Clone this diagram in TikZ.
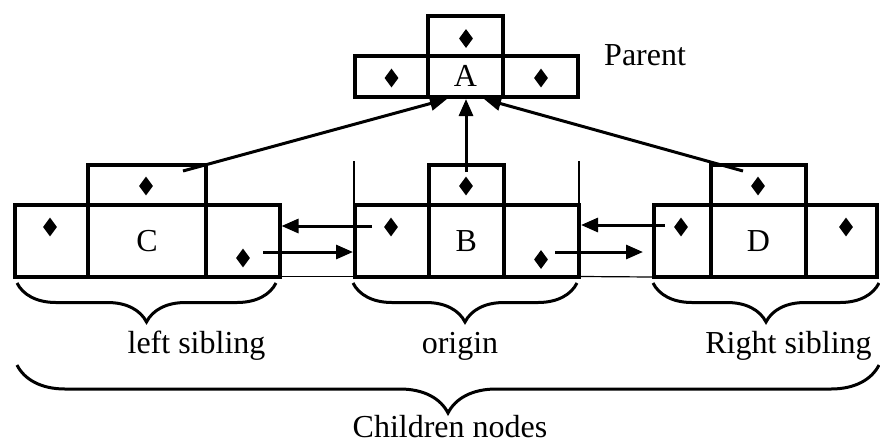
\documentclass[tikz,border=0pt]{standalone}
\usepackage{fontspec}
\setmainfont{Liberation Serif}
\usetikzlibrary{arrows.meta,shapes.geometric,decorations.pathreplacing}

\tikzset{
	cell/.style={draw, rectangle, line width=4pt, inner sep=0pt},
	suit/.style={diamond, fill, inner sep=0pt, minimum width=14pt, minimum height=19pt},
	link/.style={line width=3pt, -{Triangle[length=17pt,width=14pt]}},
	guide/.style={line width=1.2pt},
	brc/.style={decorate, line width=3pt, decoration={brace, mirror, amplitude=#1}},
	lbl/.style={anchor=base, inner sep=1pt}
}

\begin{document}
\begin{tikzpicture}[x=1pt, y=-1pt, font=\fontsize{32}{38}\selectfont]
	\useasboundingbox (0,0) rectangle (880,445);

	\begin{scope}[every node/.style={cell}]
	% parent
	\node[minimum width=75pt, minimum height=39.5pt] (at) at (465.5,35.75) {};
	\node[minimum width=73pt, minimum height=41.5pt] (al) at (391.5,76.25) {};
	\node[minimum width=75pt, minimum height=41.5pt] (am) at (465.5,76.25) {A};
	\node[minimum width=75pt, minimum height=41.5pt] (ar) at (540.5,76.25) {};
	% left sibling
	\node[minimum width=118pt, minimum height=40pt] (ct) at (147,185) {};
	\node[minimum width=73pt, minimum height=71.5pt] (cl) at (51.5,240.75) {};
	\node[minimum width=118pt, minimum height=71.5pt] (cm) at (147,240.75) {C};
	\node[minimum width=73.5pt, minimum height=71.5pt] (cr) at (242.75,240.75) {};
	% origin
	\node[minimum width=74.5pt, minimum height=40.5pt] (bt) at (466.25,184.75) {};
	\node[minimum width=74pt, minimum height=71.5pt] (bl) at (392,240.75) {};
	\node[minimum width=74.5pt, minimum height=71.5pt] (bm) at (466.25,240.75) {B};
	\node[minimum width=75.5pt, minimum height=71.5pt] (br) at (541.25,240.75) {};
	% right sibling
	\node[minimum width=95pt, minimum height=40.5pt] (dt) at (758.5,184.75) {};
	\node[minimum width=57pt, minimum height=72pt] (dl) at (682.5,241) {};
	\node[minimum width=95pt, minimum height=72pt] (dm) at (758.5,241) {D};
	\node[minimum width=71pt, minimum height=72pt] (dr) at (841.5,241) {};
	\end{scope}

	\begin{scope}[every node/.style={suit}]
	\node (atd) at (466,38.5) {};
	\node (ald) at (391.5,78) {};
	\node (ard) at (541,78) {};
	\node (ctd) at (146,186) {};
	\node (cld) at (50,227) {};
	\node (crd) at (243,258) {};
	\node (btd) at (466,186) {};
	\node (bld) at (391,227) {};
	\node (brd) at (541,259.5) {};
	\node (dtd) at (758,186) {};
	\node (dld) at (681,227) {};
	\node (drd) at (846,227) {};
	\end{scope}

	\node[lbl, anchor=base west] (par) at (603,65) {Parent};

	% pointers to the parent
	\coordinate (cp) at (183,171);
	\coordinate (bp) at (466,172);
	\coordinate (dp) at (743,171);
	\draw[link] (cp) -- ([xshift=17pt]al.south east);
	\draw[link] (bp) -- (bp |- am.south);
	\draw[link] (dp) -- ([xshift=-17pt]ar.south west);

	% sibling pointers
	\coordinate (bc) at (372,226);
	\coordinate (cb) at (263,252);
	\coordinate (db) at (665,225);
	\coordinate (bd) at (555,252);
	\draw[link] (bc) -- (bc -| cr.east);
	\draw[link] (cb) -- (cb -| bl.west);
	\draw[link] (db) -- (db -| br.east);
	\draw[link, shorten >=9pt] (bd) -- (bd -| dl.west);

	\draw[guide] ([xshift=1pt]bl.north west) -- ++(0,-42);
	\draw[guide] ([xshift=-2pt]br.north east) -- ++(0,-42);
	\draw[guide] ([yshift=2pt]cr.south east) -- ([yshift=2pt]bl.south west);
	\draw[guide] ([yshift=2pt]br.south east) -- ([yshift=2pt]dl.south west);

	% braces
	\draw[brc=39pt] (17,283) -- (276,283);
	\draw[brc=39pt] (353,283) -- (577,283);
	\draw[brc=39pt] (653,283) -- (879,283);
	\draw[brc=48pt] (17,365) -- (879,365);

	\node[lbl] (lsib) at (196.5,353) {left sibling};
	\node[lbl] (orig) at (460,353) {origin};
	\node[lbl] (rsib) at (788.5,353) {Right sibling};
	\node[lbl] (kids) at (450,437) {Children nodes};
\end{tikzpicture}
\end{document}
